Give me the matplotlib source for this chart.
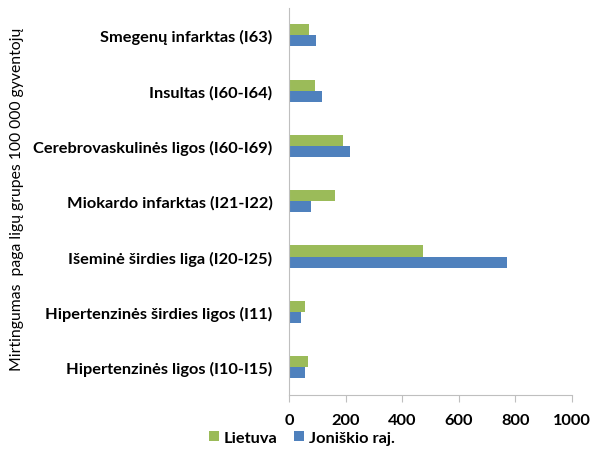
import numpy as np
import matplotlib.pyplot as plt

# categories bottom to top
categories = ["Hipertenzinės ligos (I10-I15)",
              "Hipertenzinės širdies ligos (I11)",
              "Išeminė širdies liga (I20-I25)",
              "Miokardo infarktas (I21-I22)",
              "Cerebrovaskulinės ligos (I60-I69)",
              "Insultas (I60-I64)",
              "Smegenų infarktas (I63)"]
lietuva = [67, 57, 473, 161, 191, 92, 70]
joniskio = [56, 41, 772, 76, 217, 115, 94]

green = "#9BBB59"
blue = "#4F81BD"

plt.rcParams['font.family'] = ['Lato', 'DejaVu Sans']

fig = plt.figure(figsize=(5.9, 4.56), dpi=100)
ax = fig.add_axes([0.490, 0.132, 0.479, 0.849])

y = np.arange(len(categories))
h = 0.2
ax.barh(y + h / 2, lietuva, height=h, color=green, label="Lietuva")
ax.barh(y - h / 2, joniskio, height=h, color=blue, label="Joniškio raj.")

ax.set_xlim(0, 1000)
ax.set_ylim(-0.5, len(categories) - 0.5)
ax.set_xticks(np.arange(0, 1001, 200))
ax.set_yticks(y)
ax.set_yticklabels(categories, fontsize=11.8, fontweight='bold')
for lbl in ax.get_xticklabels():
    lbl.set_fontweight('bold')
    lbl.set_fontsize(11.8)

for s in ['top', 'right']:
    ax.spines[s].set_visible(False)
ax.spines['left'].set_color('#BFBFBF')
ax.spines['bottom'].set_color('#BFBFBF')
ax.tick_params(axis='y', length=0, pad=12)
ax.tick_params(axis='x', length=5, color='#BFBFBF', pad=8)

fig.text(0.029, 0.563, "Mirtingumas  paga ligų grupes 100 000 gyventojų",
         rotation=90, ha='center', va='center', fontsize=11.3)

fig.legend(loc='center', bbox_to_anchor=(0.512, 0.038), ncol=2, frameon=False,
           handlelength=0.6, handleheight=0.6, handletextpad=0.3, columnspacing=1.0,
           prop={'weight': 'bold', 'size': 11.8})

fig.savefig("out.png", dpi=100)
